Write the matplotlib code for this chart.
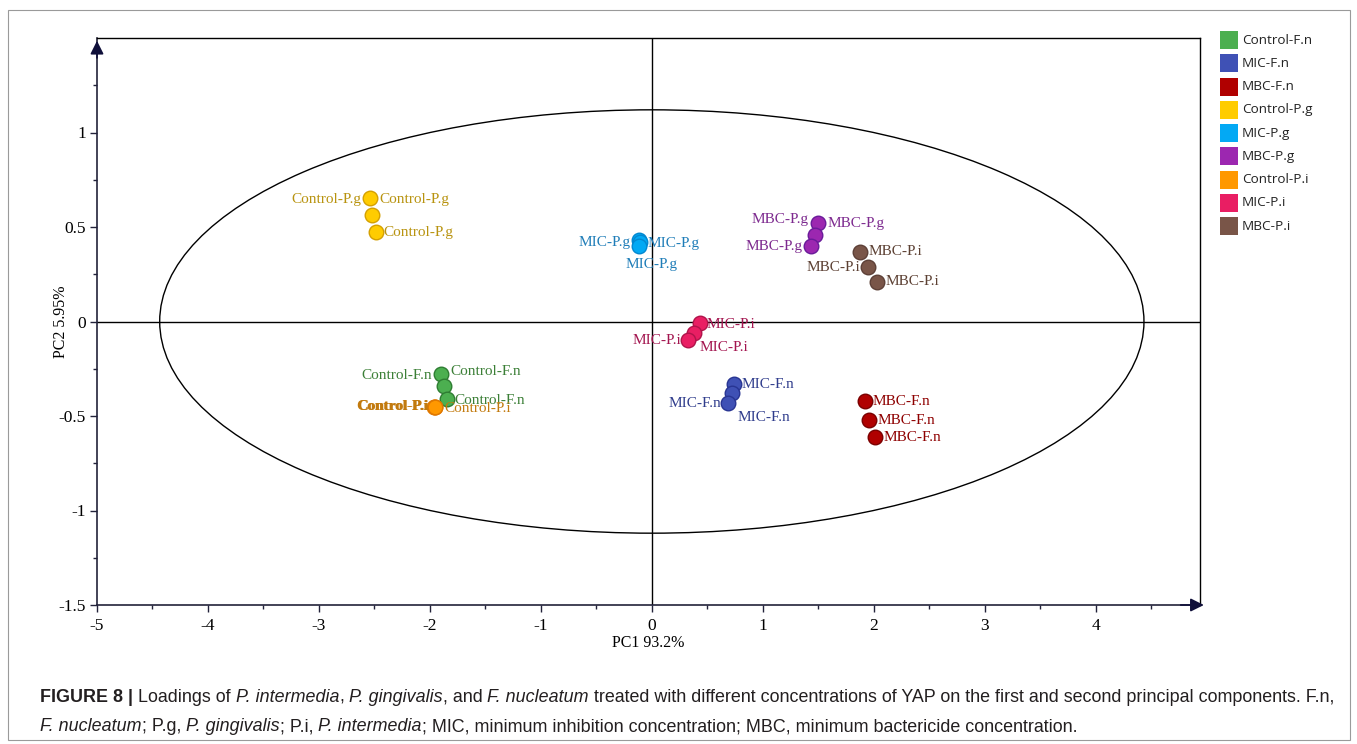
import matplotlib
matplotlib.use("Agg")
import matplotlib.pyplot as plt
from matplotlib.patches import Ellipse, Rectangle
from matplotlib.transforms import IdentityTransform
from matplotlib.ticker import MultipleLocator, FixedLocator

# PCA loadings, three replicates per treatment
groups = ['Control-F.n', 'MIC-F.n', 'MBC-F.n', 'Control-P.g', 'MIC-P.g',
          'MBC-P.g', 'Control-P.i', 'MIC-P.i', 'MBC-P.i']
pc1 = [[-1.90, -1.87, -1.85],
       [0.74, 0.72, 0.69],
       [1.92, 1.96, 2.01],
       [-2.54, -2.52, -2.49],
       [-0.12, -0.11, -0.12],
       [1.50, 1.47, 1.43],
       [-1.95, -1.96, -1.95],
       [0.43, 0.38, 0.33],
       [1.88, 1.95, 2.03]]
pc2 = [[-0.28, -0.34, -0.41],
       [-0.33, -0.38, -0.43],
       [-0.42, -0.52, -0.61],
       [0.651, 0.566, 0.476],
       [0.43, 0.42, 0.40],
       [0.52, 0.46, 0.40],
       [-0.45, -0.45, -0.455],
       [-0.01, -0.06, -0.10],
       [0.37, 0.29, 0.21]]
y_ticks = [-1.5, -1, -0.5, 0, 0.5, 1]

fill_colors = ['#4CAF50', '#3F51B5', '#B00000', '#FFCC00', '#03A9F4',
               '#9C27B0', '#FF9800', '#E91E63', '#795548']
text_colors = ['#3B7F36', '#2F3C8C', '#8E0000', '#B8930F', '#1F7DB8',
               '#7D2A8F', '#C27A0E', '#A3154F', '#5C4033']
edge_colors = ['#2E7D32', '#283593', '#7A0000', '#D4A000', '#0288D1',
               '#6A1B9A', '#E07800', '#B0134A', '#5D4037']

# label offsets (pixels) and alignment for each replicate
label_offsets = [
    [(-9, -1, 'right'), (6, 14, 'left'), (8, -2, 'left')],
    [(8, -1, 'left'), (-10, -10, 'right'), (9, -15, 'left')],
    [(8, -1, 'left'), (8, -1, 'left'), (9, -1, 'left')],
    [(9, -1, 'left'), (-11, 15, 'right'), (8, -1, 'left')],
    [(-8, -2, 'right'), (8, -1, 'left'), (13, -19, 'center')],
    [(9, 0, 'left'), (-6, 15, 'right'), (-8, -1, 'right')],
    [(-7, 0, 'right'), (-7, 0, 'right'), (9, -1, 'left')],
    [(7, -1, 'left'), (6, -15, 'left'), (-7, 0, 'right')],
    [(8, 0, 'left'), (-8, -1, 'right'), (8, 0, 'left')],
]

serif = 'Liberation Serif'
W, H = 1357, 744
fig = plt.figure(figsize=(W / 100, H / 100), dpi=100)
ax = fig.add_axes([97 / W, 1 - 605 / H, (1200 - 97) / W, (605 - 38) / H])
ax.set_xlim(-5, 4.94)
ax.set_ylim(-1.5, 1.5)

axis_col = '#22223A'
for side in ['left', 'bottom']:
    ax.spines[side].set_color(axis_col)
    ax.spines[side].set_linewidth(1.2)
for side in ['top', 'right']:
    ax.spines[side].set_color('black')
    ax.spines[side].set_linewidth(1.0)

ax.xaxis.set_major_locator(MultipleLocator(1))
ax.xaxis.set_minor_locator(MultipleLocator(0.5))
ax.yaxis.set_major_locator(FixedLocator(y_ticks))
ax.yaxis.set_minor_locator(FixedLocator([-1.25, -0.75, -0.25, 0.25, 0.75, 1.25]))
ax.tick_params(which='major', direction='out', length=5, width=1, color=axis_col,
               labelsize=12.5)
ax.tick_params(axis='y', which='major', pad=3)
ax.tick_params(axis='x', which='major', pad=4)
ax.tick_params(which='minor', direction='out', length=3, width=1, color=axis_col)
ax.xaxis.set_major_formatter(plt.FuncFormatter(lambda v, p: f'{v:g}'))
ax.yaxis.set_major_formatter(plt.FuncFormatter(lambda v, p: f'{v:g}'))
for lab in ax.get_xticklabels() + ax.get_yticklabels():
    lab.set_fontfamily(serif)

ax.set_xlabel('PC1 93.2%', fontfamily=serif, fontsize=11.5, labelpad=1)
ax.set_ylabel('PC2 5.95%', fontfamily=serif, fontsize=11.5)
ax.yaxis.set_label_coords(-0.025, 0.5)

# arrowheads on the axes
ax.annotate('', xy=(0, 1.0), xytext=(0, 0.96), xycoords='axes fraction',
            arrowprops=dict(arrowstyle='-|>', color='#10103A', lw=1.2,
                            mutation_scale=20), annotation_clip=False)
ax.annotate('', xy=(1.006, 0), xytext=(0.98, 0), xycoords='axes fraction',
            arrowprops=dict(arrowstyle='-|>', color='#10103A', lw=1.2,
                            mutation_scale=20), annotation_clip=False)

ax.axhline(0, color='black', lw=1, zorder=1)
ax.axvline(0, color='black', lw=1, zorder=1)
ax.add_patch(Ellipse((0, 0), 8.87, 2.24, fill=False, ec='black', lw=1, zorder=1))

for g in range(len(groups)):
    ax.scatter(pc1[g], pc2[g], s=110, c=fill_colors[g], edgecolors=edge_colors[g],
               linewidths=1.0, zorder=3)
    for k in range(3):
        dx, dy, ha = label_offsets[g][k]
        weight = 'bold' if (groups[g] == 'Control-P.i' and ha == 'right') else 'normal'
        ax.annotate(groups[g], (pc1[g][k], pc2[g][k]), xytext=(dx, dy),
                    textcoords='offset pixels', ha=ha, va='center',
                    fontfamily=serif, fontsize=11, color=text_colors[g],
                    fontweight=weight, zorder=4)

# legend drawn as colour squares with labels
px = IdentityTransform()
for i, name in enumerate(groups):
    yc = H - (40 + i * 23.25)
    fig.patches.append(Rectangle((1220, yc - 9), 18, 18, transform=px,
                                 facecolor=fill_colors[i], edgecolor='none'))
    fig.text(1242, yc, name, transform=px, va='center', ha='left',
             fontfamily='Open Sans', fontsize=9.7, color='#222222')

# outer frame
fig.patches.append(Rectangle((8, 4), 1342, H - 14, transform=px, fill=False,
                             edgecolor='#9A9A9A', lw=0.8))

# caption with mixed styles
renderer = fig.canvas.get_renderer()
cap_size = 12.85
cap_font = 'Liberation Sans'


def text_width(s, **kw):
    t = fig.text(0, 0, s, transform=px, fontfamily=cap_font, fontsize=cap_size, **kw)
    w = t.get_window_extent(renderer).width
    t.remove()
    return w


space_w = text_width('a a') - text_width('aa')


def draw_runs(x, y, runs):
    for s, style in runs:
        kw = {}
        if style == 'b':
            kw['fontweight'] = 'bold'
        elif style == 'i':
            kw['fontstyle'] = 'italic'
        body = s.strip(' ')
        x += space_w * (len(s) - len(s.lstrip(' ')))
        if body:
            t = fig.text(x, y, body, transform=px, fontfamily=cap_font,
                         fontsize=cap_size, color='#231F20', va='baseline', **kw)
            x += t.get_window_extent(renderer).width
        x += space_w * (len(s) - len(s.rstrip(' ')))


line1 = [('FIGURE 8 |', 'b'), (' Loadings of ', 'n'), ('P. intermedia', 'i'), (', ', 'n'),
         ('P. gingivalis', 'i'), (', and ', 'n'), ('F. nucleatum', 'i'),
         (' treated with different concentrations of YAP on the first and second '
          'principal components. F.n,', 'n')]
line2 = [('F. nucleatum', 'i'), ('; P.g, ', 'n'), ('P. gingivalis', 'i'), ('; P.i, ', 'n'),
         ('P. intermedia', 'i'),
         ('; MIC, minimum inhibition concentration; MBC, minimum bactericide concentration.', 'n')]
draw_runs(40, H - 702, line1)
draw_runs(40, H - 731, line2)

fig.savefig('out.png', dpi=100)
